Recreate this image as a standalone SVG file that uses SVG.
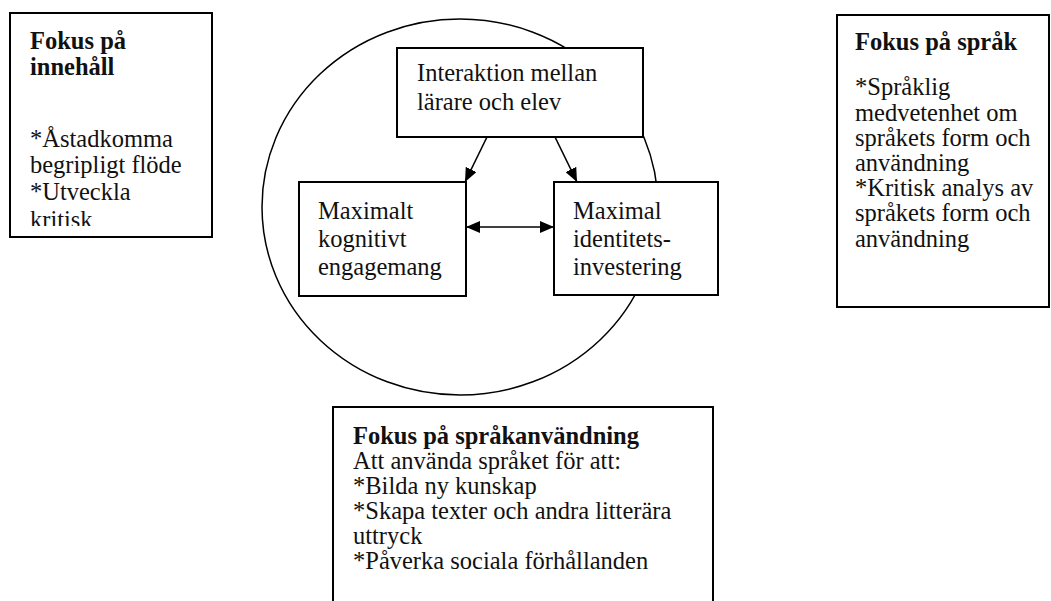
<svg xmlns="http://www.w3.org/2000/svg" width="1051" height="601" viewBox="0 0 1051 601">
<style>
.box{fill:#fff;stroke:#000;stroke-width:2}
.t{font-family:"Liberation Serif","Times New Roman",serif;font-size:24.5px;fill:#111}
.b{font-weight:bold}
.ln{stroke:#000;stroke-width:1.6;fill:none}
</style>
<defs>
<marker id="ah" viewBox="0 0 14 12" refX="14" refY="6" markerWidth="14" markerHeight="12" markerUnits="userSpaceOnUse" orient="auto-start-reverse">
<path d="M0,0 L14,6 L0,12 z" fill="#000"/>
</marker>
<clipPath id="clipL"><rect x="11" y="14" width="200" height="212"/></clipPath>
</defs>
<rect width="1051" height="601" fill="#fff"/>
<g id="focus-content">
<rect class="box" x="10" y="13" width="202" height="224"/>
<g clip-path="url(#clipL)">
<text class="t b" x="30" y="49">Fokus på</text>
<text class="t b" x="30" y="75">innehåll</text>
<text class="t" x="30" y="147">*Åstadkomma</text>
<text class="t" x="30" y="173">begripligt flöde</text>
<text class="t" x="30" y="200">*Utveckla</text>
<text class="t" x="30" y="228">kritisk</text>
</g>
</g>
<g id="focus-language">
<rect class="box" x="837" y="15" width="212" height="292"/>
<text class="t b" x="855" y="50">Fokus på språk</text>
<text class="t" x="855" y="95">*Språklig</text>
<text class="t" x="855" y="121">medvetenhet om</text>
<text class="t" x="855" y="146">språkets form och</text>
<text class="t" x="855" y="171">användning</text>
<text class="t" x="855" y="196">*Kritisk analys av</text>
<text class="t" x="855" y="221">språkets form och</text>
<text class="t" x="855" y="247">användning</text>
</g>
<g id="ellipse">
<ellipse cx="460" cy="207" rx="198" ry="188" fill="none" stroke="#000" stroke-width="1.5"/>
</g>
<g id="interaction">
<rect class="box" x="397" y="48" width="246" height="89"/>
<text class="t" x="417" y="81">Interaktion mellan</text>
<text class="t" x="417" y="110">lärare och elev</text>
</g>
<g id="cognitive">
<rect class="box" x="299" y="182" width="167" height="114"/>
<text class="t" x="318" y="219">Maximalt</text>
<text class="t" x="318" y="247">kognitivt</text>
<text class="t" x="318" y="275">engagemang</text>
</g>
<g id="identity">
<rect class="box" x="554" y="182" width="164" height="113"/>
<text class="t" x="573" y="219">Maximal</text>
<text class="t" x="573" y="247">identitets-</text>
<text class="t" x="573" y="275">investering</text>
</g>
<g id="language-use">
<rect class="box" x="333" y="407" width="380" height="210"/>
<text class="t b" x="353" y="444">Fokus på språkanvändning</text>
<text class="t" x="353" y="469">Att använda språket för att:</text>
<text class="t" x="353" y="494">*Bilda ny kunskap</text>
<text class="t" x="353" y="519">*Skapa texter och andra litterära</text>
<text class="t" x="353" y="544">uttryck</text>
<text class="t" x="353" y="569">*Påverka sociala förhållanden</text>
</g>
<g id="connectors">
<line class="ln" x1="487" y1="137" x2="465" y2="182" marker-end="url(#ah)"/>
<line class="ln" x1="555" y1="137" x2="577" y2="182" marker-end="url(#ah)"/>
<line class="ln" x1="466" y1="227" x2="554" y2="227" marker-start="url(#ah)" marker-end="url(#ah)"/>
</g>
</svg>
